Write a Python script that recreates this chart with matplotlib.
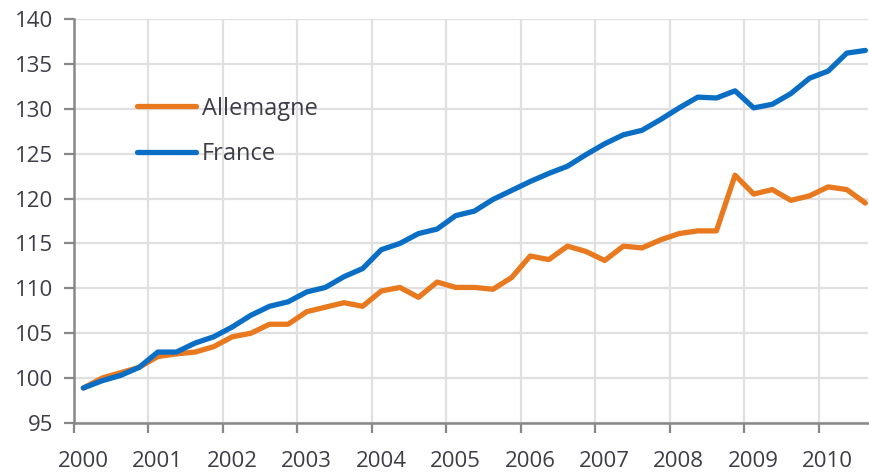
import matplotlib
matplotlib.use("Agg")
import matplotlib.pyplot as plt
import matplotlib.transforms as mtransforms
import numpy as np

# Quarterly index values, 2000Q1 .. 2010Q3
quarters_start = 2000
n_quarters = 43
allemagne = [98.9, 100.0, 100.6, 101.2, 102.4, 102.7, 102.9, 103.5, 104.6, 105.0,
             106.0, 106.0, 107.4, 107.9, 108.4, 108.0, 109.7, 110.1, 109.0, 110.7,
             110.1, 110.1, 109.9, 111.2, 113.6, 113.2, 114.7, 114.1, 113.1, 114.7,
             114.5, 115.4, 116.1, 116.4, 116.4, 122.6, 120.5, 121.0, 119.8, 120.3,
             121.3, 121.0, 119.5]
france = [98.9, 99.7, 100.3, 101.2, 102.9, 102.9, 103.9, 104.6, 105.7, 107.0,
          108.0, 108.5, 109.6, 110.1, 111.3, 112.2, 114.3, 115.0, 116.1, 116.6,
          118.1, 118.6, 119.9, 120.9, 121.9, 122.8, 123.6, 124.9, 126.1, 127.1,
          127.6, 128.8, 130.1, 131.3, 131.2, 132.0, 130.1, 130.5, 131.7, 133.4,
          134.2, 136.2, 136.5]
years = list(range(2000, 2011))
yticks = list(range(95, 141, 5))
labels = ["Allemagne", "France"]

t = quarters_start + 0.125 + 0.25 * np.arange(n_quarters)

plt.rcParams['font.family'] = ['Open Sans', 'DejaVu Sans']

fig = plt.figure(figsize=(8.7, 4.74), dpi=100)
ax = fig.add_axes([74/870, 1 - 423/474, 794/870, 404/474])

orange = '#E8791F'
blue = '#0A6EC4'
txtcol = '#3d3d48'
ax.plot(t, allemagne, color=orange, lw=3.8, label=labels[0], solid_joinstyle='round',
        solid_capstyle='round', zorder=3)
ax.plot(t, france, color=blue, lw=3.8, label=labels[1], solid_joinstyle='round',
        solid_capstyle='round', zorder=4)

ax.set_xlim(2000, 2010.66)
ax.set_ylim(95, 140)
ax.set_xticks(years)
ax.set_yticks(yticks)
ax.grid(True, color='#e0e0e0', lw=1.6, zorder=0)
ax.set_axisbelow(True)

for s in ['top', 'right']:
    ax.spines[s].set_visible(False)
for s in ['left', 'bottom']:
    ax.spines[s].set_color('#888888')
    ax.spines[s].set_linewidth(1.8)

ax.tick_params(axis='y', direction='out', length=7, width=1.6, color='#888888',
               labelsize=16, labelcolor=txtcol, pad=8)
ax.tick_params(axis='x', direction='out', length=7, width=1.6, color='#888888',
               labelsize=16, labelcolor=txtcol, pad=13)

offset = mtransforms.ScaledTranslation(9/100, 0, fig.dpi_scale_trans)
for lab in ax.get_xticklabels():
    lab.set_transform(lab.get_transform() + offset)

leg = ax.legend(loc='upper left', bbox_to_anchor=(63/794, 0.808), frameon=False,
                fontsize=17, handlelength=2.5, handletextpad=0.25, labelspacing=0.9,
                borderpad=0, borderaxespad=0)
for txt in leg.get_texts():
    txt.set_color(txtcol)

fig.savefig('out.png', dpi=100)
